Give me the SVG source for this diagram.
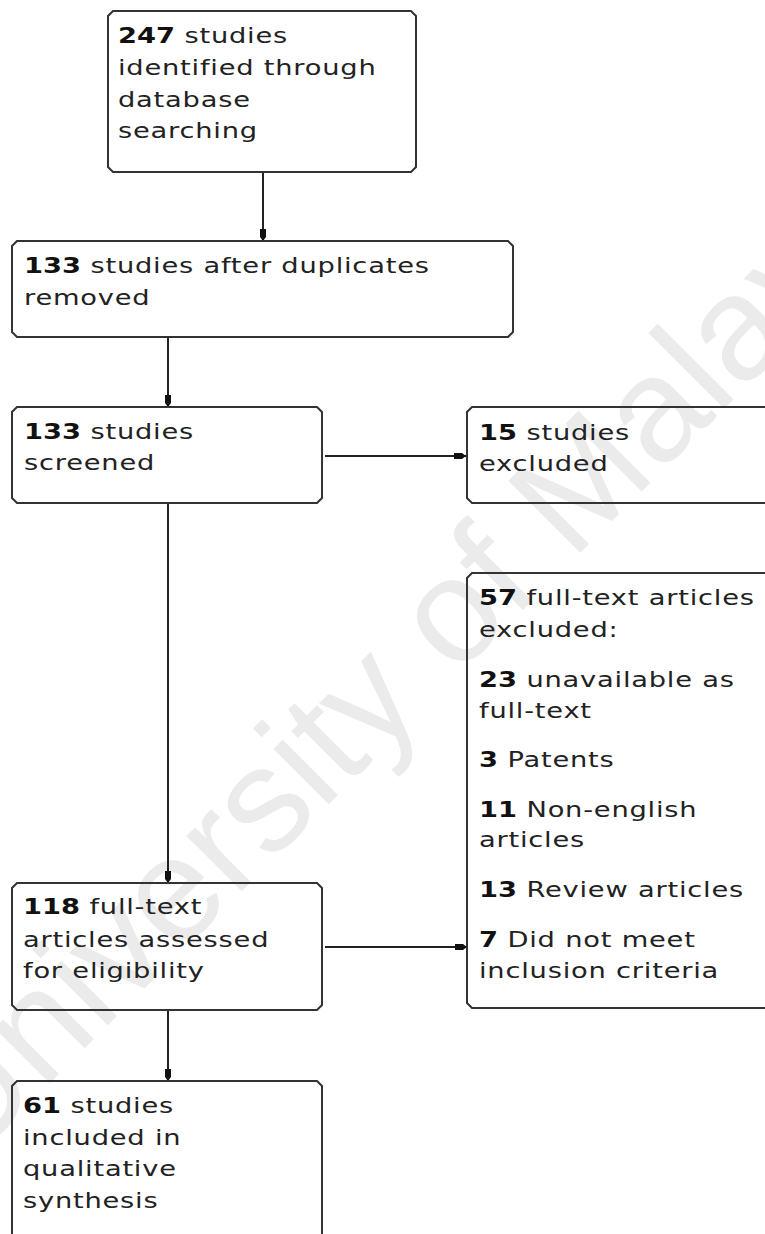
<svg xmlns="http://www.w3.org/2000/svg" width="765" height="1234" viewBox="0 0 765 1234">
<style>
.bg{fill:#ffffff}
.wm{font-family:"Liberation Sans",Arial,sans-serif;font-size:148px;fill:#ebebeb}
.box{fill:none;stroke:#333333;stroke-width:2}
.t{font-family:"DejaVu Sans",Verdana,sans-serif;font-size:21px;fill:#222222;letter-spacing:0.6px}
.b{font-weight:bold;fill:#111111;letter-spacing:0px}
.con{fill:none;stroke:#222222;stroke-width:2}
</style>
<defs>
<marker id="ah" markerUnits="userSpaceOnUse" markerWidth="14" markerHeight="10" viewBox="0 -5 14 10" refX="12" refY="0" orient="auto">
<path d="M0,-3 L8,-3 L12,0 L8,3 L0,3 Z" fill="#111111"/>
</marker>
</defs>
<rect class="bg" x="0" y="0" width="765" height="1234"/>
<g id="watermark">
<text class="wm" transform="translate(-33,1166) rotate(-45)">University of Malaya</text>
</g>
<g id="connectors">
<line class="con" x1="263" y1="172" x2="263" y2="241" marker-end="url(#ah)"/>
<line class="con" x1="168" y1="337" x2="168" y2="407" marker-end="url(#ah)"/>
<line class="con" x1="325" y1="456" x2="466" y2="456" marker-end="url(#ah)"/>
<line class="con" x1="168" y1="503" x2="168" y2="883" marker-end="url(#ah)"/>
<line class="con" x1="325" y1="947" x2="467" y2="947" marker-end="url(#ah)"/>
<line class="con" x1="168" y1="1010" x2="168" y2="1081" marker-end="url(#ah)"/>
</g>
<g id="identified">
<path class="box" d="M113,11 L411,11 L416,16 L416,167 L411,172 L113,172 L108,167 L108,16 Z"/>
<g transform="translate(118,0) scale(1.3,1) translate(-118,0)">
<text class="t" x="118" y="43"><tspan class="b">247</tspan> studies</text>
<text class="t" x="118" y="75">identified through</text>
<text class="t" x="118" y="107">database</text>
<text class="t" x="118" y="138">searching</text>
</g>
</g>
<g id="duplicates">
<path class="box" d="M17,241 L508,241 L513,246 L513,332 L508,337 L17,337 L12,332 L12,246 Z"/>
<g transform="translate(24,0) scale(1.3,1) translate(-24,0)">
<text class="t" x="24" y="273"><tspan class="b">133</tspan> studies after duplicates</text>
<text class="t" x="24" y="305">removed</text>
</g>
</g>
<g id="screened">
<path class="box" d="M17,407 L317,407 L322,412 L322,498 L317,503 L17,503 L12,498 L12,412 Z"/>
<g transform="translate(24,0) scale(1.3,1) translate(-24,0)">
<text class="t" x="24" y="439"><tspan class="b">133</tspan> studies</text>
<text class="t" x="24" y="470">screened</text>
</g>
</g>
<g id="excluded15">
<path class="box" d="M772,407 L472,407 L467,412 L467,498 L472,503 L772,503"/>
<g transform="translate(479,0) scale(1.3,1) translate(-479,0)">
<text class="t" x="479" y="440"><tspan class="b">15</tspan> studies</text>
<text class="t" x="479" y="471">excluded</text>
</g>
</g>
<g id="excluded57">
<path class="box" d="M772,573 L472,573 L467,578 L467,1003 L472,1008 L772,1008"/>
<g transform="translate(479,0) scale(1.3,1) translate(-479,0)">
<text class="t" x="479" y="605"><tspan class="b">57</tspan> full-text articles</text>
<text class="t" x="479" y="637">excluded:</text>
<text class="t" x="479" y="687"><tspan class="b">23</tspan> unavailable as</text>
<text class="t" x="479" y="718">full-text</text>
<text class="t" x="479" y="767"><tspan class="b">3</tspan> Patents</text>
<text class="t" x="479" y="817"><tspan class="b">11</tspan> Non-english</text>
<text class="t" x="479" y="847">articles</text>
<text class="t" x="479" y="897"><tspan class="b">13</tspan> Review articles</text>
<text class="t" x="479" y="947"><tspan class="b">7</tspan> Did not meet</text>
<text class="t" x="479" y="978">inclusion criteria</text>
</g>
</g>
<g id="eligibility">
<path class="box" d="M17,883 L317,883 L322,888 L322,1005 L317,1010 L17,1010 L12,1005 L12,888 Z"/>
<g transform="translate(23,0) scale(1.3,1) translate(-23,0)">
<text class="t" x="23" y="914"><tspan class="b">118</tspan> full-text</text>
<text class="t" x="23" y="947">articles assessed</text>
<text class="t" x="23" y="978">for eligibility</text>
</g>
</g>
<g id="included">
<path class="box" d="M12,1240 L12,1086 L17,1081 L317,1081 L322,1086 L322,1240"/>
<g transform="translate(23,0) scale(1.3,1) translate(-23,0)">
<text class="t" x="23" y="1113"><tspan class="b">61</tspan> studies</text>
<text class="t" x="23" y="1145">included in</text>
<text class="t" x="23" y="1176">qualitative</text>
<text class="t" x="23" y="1208">synthesis</text>
</g>
</g>
</svg>
